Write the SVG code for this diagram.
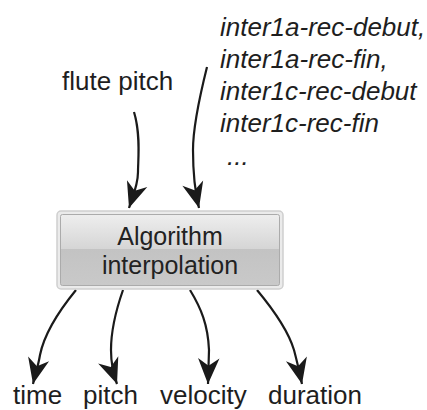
<svg xmlns="http://www.w3.org/2000/svg" width="427" height="410" viewBox="0 0 427 410">
<style>
.lbl{font-family:"Liberation Sans",Arial,sans-serif;font-size:26px;fill:#1e1e1e}
.it{font-style:italic}
.node{font-family:"Liberation Sans",Arial,sans-serif;font-size:25px;fill:#222;text-anchor:middle}
.conn{fill:none;stroke:#1a1a1a;stroke-width:2.2;marker-end:url(#ah)}
</style>
<defs>
<marker id="ah" markerUnits="userSpaceOnUse" markerWidth="30" markerHeight="30" viewBox="-26 -12 28 24" refX="0" refY="0" orient="auto">
<path d="M0,0 L-24,-10 L-17,0 L-24,10 Z" fill="#1a1a1a"/>
</marker>
<linearGradient id="g" x1="0" y1="0" x2="0" y2="1">
<stop offset="0" stop-color="#eeeeee"/>
<stop offset="0.49" stop-color="#d5d5d5"/>
<stop offset="0.49" stop-color="#c3c3c3"/>
<stop offset="1" stop-color="#c9c9c9"/>
</linearGradient>
</defs>
<g id="connectors">
<path class="conn" d="M134,112 C141,135 138,160 138,172 C138,185 133,196 129,208"/>
<path class="conn" d="M207,67 C200,95 193,125 193,150 C193,175 195,192 199,208"/>
<path class="conn" d="M76,290 C58,312 44,335 40,355 C38,367 35,375 33,384"/>
<path class="conn" d="M123,290 C116,310 111,330 111,350 C111,365 113,373 117,384"/>
<path class="conn" d="M190,290 C201,308 208,325 209,350 L208,384"/>
<path class="conn" d="M257,290 C272,308 288,330 294,350 C298,365 300,375 302,384"/>
</g>
<g id="algorithm">
<rect x="57" y="211" width="226" height="78" rx="4" fill="#ebebeb" stroke="#cfcfcf" stroke-width="1.5"/>
<rect x="60.5" y="214.5" width="219" height="71" rx="2" fill="url(#g)" stroke="#ababab" stroke-width="1"/>
<text class="node" x="170" y="245">Algorithm</text>
<text class="node" x="170" y="274">interpolation</text>
</g>
<g id="flute-pitch"><text class="lbl" x="62" y="90">flute pitch</text></g>
<g id="inter-params">
<text class="lbl it" x="220" y="36">inter1a-rec-debut,</text>
<text class="lbl it" x="220" y="68">inter1a-rec-fin,</text>
<text class="lbl it" x="220" y="100">inter1c-rec-debut</text>
<text class="lbl it" x="220" y="132">inter1c-rec-fin</text>
<text class="lbl it" x="227" y="165">...</text>
</g>
<g id="time"><text class="lbl" x="13" y="404">time</text></g>
<g id="pitch"><text class="lbl" x="83" y="404">pitch</text></g>
<g id="velocity"><text class="lbl" x="160" y="404">velocity</text></g>
<g id="duration"><text class="lbl" x="268" y="404">duration</text></g>
</svg>
